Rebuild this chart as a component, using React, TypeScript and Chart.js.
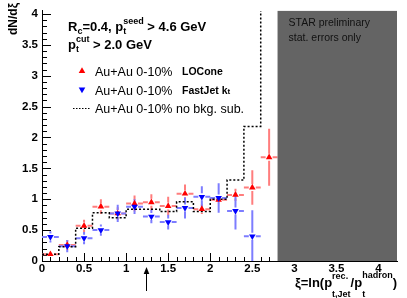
import React, { useEffect, useRef } from "react";
import { Chart, registerables } from "chart.js";

Chart.register(...registerables);

// ---------- data ----------
const loconeXi = [0.1, 0.3, 0.5, 0.7, 0.9, 1.1, 1.3, 1.5, 1.7, 1.9, 2.1, 2.3, 2.5, 2.7];
const loconeY = [0.11, 0.26, 0.57, 0.88, 0.77, 0.93, 0.95, 0.89, 1.09, 0.84, 0.99, 1.07, 1.19, 1.68];
const loconeErr = [0.05, 0.08, 0.1, 0.12, 0.1, 0.13, 0.13, 0.15, 0.15, 0.08, 0.06, 0.1, 0.28, 0.46];

const fastjetXi = [0.1, 0.3, 0.5, 0.7, 0.9, 1.1, 1.3, 1.5, 1.7, 1.9, 2.1, 2.3, 2.5];
const fastjetY = [0.39, 0.24, 0.37, 0.5, 0.77, 0.88, 0.72, 0.63, 0.86, 1.04, 1.02, 0.81, 0.4];
const fastjetErr = [0.09, 0.1, 0.1, 0.09, 0.14, 0.12, 0.11, 0.12, 0.17, 0.17, 0.24, 0.3, 0.42];

const binHalfWidth = 0.1;

const noSubEdges = [0, 0.2, 0.4, 0.6, 0.8, 1.0, 1.2, 1.4, 1.6, 1.8, 2.0, 2.2, 2.4, 2.6, 2.8];
const noSubY = [0.11, 0.23, 0.53, 0.78, 0.7, 0.84, 0.84, 0.8, 0.96, 0.8, 1.0, 1.31, 2.18, 4.6];

const xTicks = [0, 0.5, 1, 1.5, 2, 2.5, 3, 3.5, 4];
const yTicks = [0, 0.5, 1, 1.5, 2, 2.5, 3, 3.5, 4];
const xMax = 4.22;
const yMax = 4.05;
const excludedFrom = 2.8;
const arrowXi = 1.24;

// ---------- drawing helpers ----------
const FAM = "'Liberation Sans', Arial, Helvetica, sans-serif";
const f = (size: number, bold = false) => `${bold ? "bold " : ""}${size}px ${FAM}`;

type Seg =
  | { t: string; size: number; bold?: boolean }
  | { sup: string; sub: string; size: number; bold?: boolean; supDy: number; subDy: number };

function segWidth(ctx: CanvasRenderingContext2D, s: Seg) {
  if ("t" in s) {
    ctx.font = f(s.size, s.bold);
    return ctx.measureText(s.t).width;
  }
  ctx.font = f(s.size, s.bold);
  return Math.max(ctx.measureText(s.sup).width, ctx.measureText(s.sub).width);
}

function drawRich(ctx: CanvasRenderingContext2D, segs: Seg[], x: number, baseline: number, align: "left" | "right" = "left") {
  let total = 0;
  for (const s of segs) total += segWidth(ctx, s);
  let cx = align === "left" ? x : x - total;
  ctx.textAlign = "left";
  ctx.textBaseline = "alphabetic";
  for (const s of segs) {
    const w = segWidth(ctx, s);
    ctx.font = f(s.size, s.bold);
    if ("t" in s) {
      ctx.fillText(s.t, cx, baseline);
    } else {
      ctx.fillText(s.sup, cx, baseline + s.supDy);
      ctx.fillText(s.sub, cx, baseline + s.subDy);
    }
    cx += w;
  }
}

function tri(ctx: CanvasRenderingContext2D, x: number, y: number, r: number, rotDeg: number) {
  let rad = (rotDeg * Math.PI) / 180;
  ctx.beginPath();
  ctx.moveTo(x + Math.sin(rad) * r, y - Math.cos(rad) * r);
  rad += (2 * Math.PI) / 3;
  ctx.lineTo(x + Math.sin(rad) * r, y - Math.cos(rad) * r);
  rad += (2 * Math.PI) / 3;
  ctx.lineTo(x + Math.sin(rad) * r, y - Math.cos(rad) * r);
  ctx.closePath();
  ctx.fill();
}

function drawErr(ctx: CanvasRenderingContext2D, xs: any, ys: any, xi: number[], v: number[], e: number[], color: string) {
  const gap = 3.5;
  ctx.strokeStyle = color;
  ctx.lineWidth = 2;
  ctx.beginPath();
  for (let i = 0; i < xi.length; i++) {
    const px = xs.getPixelForValue(xi[i]);
    const py = ys.getPixelForValue(v[i]);
    const top = ys.getPixelForValue(v[i] + e[i]);
    const bot = ys.getPixelForValue(v[i] - e[i]);
    const l = xs.getPixelForValue(xi[i] - binHalfWidth);
    const r = xs.getPixelForValue(xi[i] + binHalfWidth);
    if (top < py - gap) {
      ctx.moveTo(px, top);
      ctx.lineTo(px, py - gap);
    }
    if (bot > py + gap) {
      ctx.moveTo(px, py + gap);
      ctx.lineTo(px, bot);
    }
    ctx.moveTo(l, py);
    ctx.lineTo(px - gap, py);
    ctx.moveTo(px + gap, py);
    ctx.lineTo(r, py);
  }
  ctx.stroke();
}

const decor = {
  id: "decor",
  beforeDatasetsDraw(chart: any) {
    const { ctx, chartArea: a } = chart;
    const xs = chart.scales.x;
    const ys = chart.scales.y;
    ctx.save();
    // ROOT-style inward ticks
    ctx.strokeStyle = "#000";
    ctx.lineWidth = 1;
    ctx.beginPath();
    for (let i = 0; i <= 40; i++) {
      const py = Math.round(ys.getPixelForValue(i / 10)) + 0.5;
      const len = i % 5 === 0 ? 9 : 5;
      ctx.moveTo(a.left, py);
      ctx.lineTo(a.left + len, py);
    }
    for (let i = 0; i <= 42; i++) {
      const px = Math.round(xs.getPixelForValue(i / 10)) + 0.5;
      const len = i % 5 === 0 ? 8 : 4;
      ctx.moveTo(px, a.bottom);
      ctx.lineTo(px, a.bottom - len);
    }
    ctx.stroke();
    // error bars
    ctx.beginPath();
    ctx.rect(a.left, a.top, a.right - a.left, a.bottom - a.top);
    ctx.clip();
    drawErr(ctx, xs, ys, loconeXi, loconeY, loconeErr, "rgb(255,125,125)");
    drawErr(ctx, xs, ys, fastjetXi, fastjetY, fastjetErr, "rgb(125,125,255)");
    ctx.restore();
  },
  afterDatasetsDraw(chart: any) {
    const { ctx, chartArea: a } = chart;
    const xs = chart.scales.x;
    ctx.save();
    // excluded region
    const gx = xs.getPixelForValue(excludedFrom);
    ctx.fillStyle = "#646464";
    ctx.fillRect(gx, a.top, a.right - gx, a.bottom - a.top);
    ctx.fillStyle = "#111";
    ctx.font = f(10.5);
    ctx.textAlign = "left";
    ctx.textBaseline = "alphabetic";
    ctx.fillText("STAR preliminary", gx + 11, 26);
    ctx.fillText("stat. errors only", gx + 11, 41);

    ctx.fillStyle = "#000";
    // header text
    drawRich(ctx, [
      { t: "R", size: 13, bold: true },
      { sup: "", sub: "c", size: 9, bold: true, supDy: -7, subDy: 3 },
      { t: "=0.4, p", size: 13, bold: true },
      { sup: "seed", sub: "t", size: 9, bold: true, supDy: -7, subDy: 3 },
      { t: " > 4.6 GeV", size: 13, bold: true },
    ], 68, 31);
    drawRich(ctx, [
      { t: "p", size: 13, bold: true },
      { sup: "cut", sub: "t", size: 9, bold: true, supDy: -7, subDy: 3 },
      { t: " > 2.0 GeV", size: 13, bold: true },
    ], 68, 48.5);

    // legend
    ctx.fillStyle = "#ff0000";
    tri(ctx, 82, 71, 3.8, 0);
    ctx.fillStyle = "#0000ff";
    tri(ctx, 82, 89.5, 3.8, 180);
    ctx.strokeStyle = "#000";
    ctx.lineWidth = 1.2;
    ctx.setLineDash([1.5, 1.5]);
    ctx.beginPath();
    ctx.moveTo(73, 108.5);
    ctx.lineTo(90, 108.5);
    ctx.stroke();
    ctx.setLineDash([]);
    ctx.fillStyle = "#000";
    ctx.font = f(12.5);
    ctx.fillText("Au+Au 0-10%", 95, 75.5);
    ctx.fillText("Au+Au 0-10%", 95, 94.5);
    ctx.fillText("Au+Au 0-10% no bkg. sub.", 95, 112.5);
    ctx.font = f(10.5, true);
    ctx.fillText("LOCone", 182, 75);
    drawRich(ctx, [
      { t: "FastJet k", size: 10.5, bold: true },
      { t: "t", size: 8, bold: true },
    ], 182, 94);

    // axis titles
    drawRich(ctx, [
      { t: "ξ=ln(p", size: 13, bold: true },
      { sup: "rec.", sub: "t,Jet", size: 9, bold: true, supDy: -8, subDy: 10 },
      { t: "/p", size: 13, bold: true },
      { sup: "hadron", sub: "t", size: 9, bold: true, supDy: -9, subDy: 10 },
      { t: ")", size: 13, bold: true },
    ], a.right, 286.5, "right");

    ctx.save();
    ctx.translate(14, 19);
    ctx.rotate(-Math.PI / 2);
    ctx.font = f(12, true);
    ctx.textAlign = "center";
    ctx.textBaseline = "middle";
    ctx.fillText("dN/dξ", 0, 0);
    ctx.restore();

    // arrow
    const ax = Math.round(xs.getPixelForValue(arrowXi)) + 0.5;
    ctx.strokeStyle = "#000";
    ctx.lineWidth = 1;
    ctx.beginPath();
    ctx.moveTo(ax, 291);
    ctx.lineTo(ax, 271);
    ctx.stroke();
    ctx.beginPath();
    ctx.moveTo(ax, 267);
    ctx.lineTo(ax - 2.8, 274);
    ctx.lineTo(ax + 2.8, 274);
    ctx.closePath();
    ctx.fill();
    ctx.restore();
  },
};

const fmt = (v: number | string) => String(Number(v));

export default function App() {
  const ref = useRef<HTMLCanvasElement>(null);
  useEffect(() => {
    document.body.style.margin = "0";
    const canvas = ref.current!;
    const histPts = noSubY.map((v, i) => ({ x: noSubEdges[i], y: v }));
    histPts.push({ x: noSubEdges[noSubEdges.length - 1], y: noSubY[noSubY.length - 1] });
    const tickFont = { family: FAM, size: 11.5, weight: "bold" as const };
    const chart = new Chart(canvas, {
      type: "scatter",
      data: {
        datasets: [
          {
            label: "Au+Au 0-10% FastJet kt",
            data: fastjetXi.map((x, i) => ({ x, y: fastjetY[i] })),
            pointStyle: "triangle",
            pointRotation: 180,
            pointRadius: 3.8,
            borderWidth: 0,
            backgroundColor: "#0000ff",
            borderColor: "#0000ff",
          },
          {
            label: "Au+Au 0-10% LOCone",
            data: loconeXi.map((x, i) => ({ x, y: loconeY[i] })),
            pointStyle: "triangle",
            pointRadius: 3.8,
            borderWidth: 0,
            backgroundColor: "#ff0000",
            borderColor: "#ff0000",
          },
          {
            type: "line",
            label: "Au+Au 0-10% no bkg. sub.",
            data: histPts,
            stepped: true,
            showLine: true,
            pointRadius: 0,
            borderColor: "#000",
            borderWidth: 1.5,
            borderDash: [2, 2],
            fill: false,
          } as any,
        ],
      },
      options: {
        animation: false,
        responsive: false,
        layout: { padding: { left: 0, right: 10, top: 8, bottom: 0 } },
        plugins: { legend: { display: false }, tooltip: { enabled: false } },
        scales: {
          x: {
            type: "linear",
            min: 0,
            max: xMax,
            afterBuildTicks: (s: any) => {
              s.ticks = xTicks.map((v) => ({ value: v }));
            },
            afterFit: (s: any) => {
              s.height = 37;
            },
            grid: { display: false, drawTicks: false },
            border: { display: true, color: "#000", width: 1 },
            ticks: { font: tickFont, color: "#000", padding: 1, maxRotation: 0, autoSkip: false, callback: (v: any) => fmt(v) },
          },
          y: {
            type: "linear",
            min: 0,
            max: yMax,
            afterBuildTicks: (s: any) => {
              s.ticks = yTicks.map((v) => ({ value: v }));
            },
            afterFit: (s: any) => {
              s.width = 42;
            },
            grid: { display: false, drawTicks: false },
            border: { display: true, color: "#000", width: 1 },
            ticks: { font: tickFont, color: "#000", padding: 4, autoSkip: false, callback: (v: any) => fmt(v) },
          },
        },
      },
      plugins: [decor],
    });
    return () => chart.destroy();
  }, []);
  return (
    <div style={{ width: 407, height: 298, position: "relative" }}>
      <canvas ref={ref} width={407} height={298} style={{ display: "block" }} />
    </div>
  );
}
